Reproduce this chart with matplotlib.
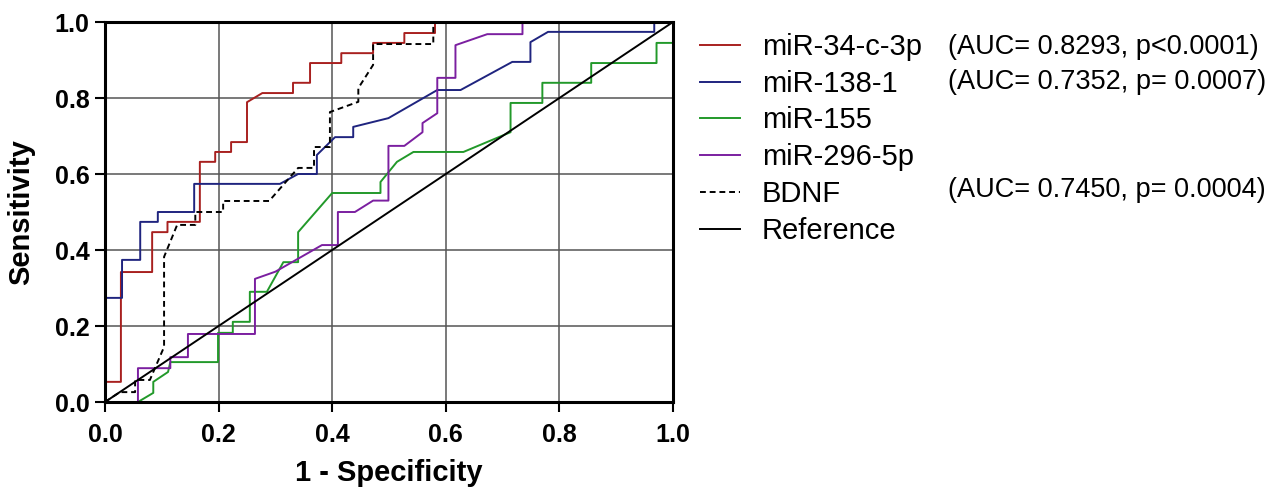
import matplotlib
matplotlib.use("Agg")
import matplotlib.pyplot as plt

plt.rcParams['font.family'] = ['Liberation Sans', 'DejaVu Sans']

# ROC curves (1 - specificity, sensitivity)
mir34_x = [0, 0, 0.028, 0.028, 0.083, 0.083, 0.11, 0.11, 0.167, 0.167, 0.194, 0.194,
           0.222, 0.222, 0.25, 0.25, 0.277, 0.331, 0.331, 0.361, 0.361, 0.416, 0.416,
           0.472, 0.472, 0.527, 0.527, 0.581, 0.581, 1.0]
mir34_y = [0, 0.053, 0.053, 0.342, 0.342, 0.447, 0.447, 0.474, 0.474, 0.632, 0.632, 0.658,
           0.658, 0.684, 0.684, 0.789, 0.813, 0.813, 0.84, 0.84, 0.892, 0.892, 0.918,
           0.918, 0.945, 0.945, 0.971, 0.971, 1.0, 1.0]

mir138_x = [0, 0, 0.03, 0.03, 0.062, 0.062, 0.093, 0.093, 0.157, 0.157, 0.308, 0.34,
            0.373, 0.373, 0.405, 0.437, 0.437, 0.499, 0.585, 0.626, 0.717, 0.749,
            0.749, 0.78, 0.967, 0.967, 1.0]
mir138_y = [0, 0.274, 0.274, 0.374, 0.374, 0.474, 0.474, 0.5, 0.5, 0.574, 0.574, 0.6,
            0.6, 0.65, 0.697, 0.697, 0.724, 0.747, 0.821, 0.821, 0.895, 0.895,
            0.947, 0.974, 0.974, 1.0, 1.0]

mir155_x = [0, 0.058, 0.085, 0.085, 0.111, 0.115, 0.199, 0.199, 0.225, 0.225, 0.255,
            0.255, 0.285, 0.314, 0.34, 0.34, 0.40, 0.485, 0.485, 0.514, 0.543, 0.631,
            0.714, 0.714, 0.77, 0.77, 0.856, 0.856, 0.971, 0.971, 1.0, 1.0]
mir155_y = [0, 0, 0.024, 0.053, 0.079, 0.105, 0.105, 0.182, 0.182, 0.211, 0.211,
            0.29, 0.29, 0.368, 0.368, 0.447, 0.55, 0.55, 0.579, 0.632, 0.658, 0.658,
            0.71, 0.787, 0.787, 0.84, 0.84, 0.892, 0.892, 0.945, 0.945, 1.0]

mir296_x = [0, 0.058, 0.058, 0.115, 0.115, 0.146, 0.146, 0.264, 0.264, 0.30, 0.382,
            0.41, 0.41, 0.44, 0.472, 0.499, 0.499, 0.527, 0.559, 0.559, 0.585, 0.585,
            0.617, 0.617, 0.673, 0.735, 0.735, 1.0]
mir296_y = [0, 0, 0.089, 0.089, 0.118, 0.118, 0.179, 0.179, 0.324, 0.343, 0.413,
            0.413, 0.5, 0.5, 0.53, 0.53, 0.674, 0.674, 0.71, 0.734, 0.76, 0.853,
            0.853, 0.939, 0.968, 0.968, 1.0, 1.0]

bdnf_x = [0, 0.026, 0.053, 0.053, 0.079, 0.104, 0.104, 0.127, 0.159, 0.159, 0.208,
          0.208, 0.289, 0.34, 0.368, 0.368, 0.396, 0.396, 0.446, 0.446, 0.472, 0.472,
          0.578, 0.578, 1.0]
bdnf_y = [0, 0.026, 0.026, 0.058, 0.058, 0.145, 0.382, 0.466, 0.466, 0.5, 0.5,
          0.529, 0.529, 0.616, 0.616, 0.671, 0.671, 0.763, 0.79, 0.826, 0.887, 0.942,
          0.942, 1.0, 1.0]

ref_x = [0, 1]
ref_y = [0, 1]

labels = ['miR-34-c-3p', 'miR-138-1', 'miR-155', 'miR-296-5p', 'BDNF', 'Reference']
auc_text = {0: '(AUC= 0.8293, p<0.0001)', 1: '(AUC= 0.7352, p= 0.0007)',
            4: '(AUC= 0.7450, p= 0.0004)'}

fig = plt.figure(figsize=(12.77, 4.9), dpi=100)
ax = fig.add_axes([105 / 1277, 88 / 490, 568 / 1277, 380 / 490])

lw = 1.4
ax.plot(mir34_x, mir34_y, color='#a8201f', lw=lw, label=labels[0])
ax.plot(mir138_x, mir138_y, color='#1f247f', lw=lw, label=labels[1])
ax.plot(mir155_x, mir155_y, color='#22992a', lw=lw, label=labels[2])
ax.plot(mir296_x, mir296_y, color='#7b1fa0', lw=lw, label=labels[3])
ax.plot(bdnf_x, bdnf_y, color='black', lw=lw, ls=(0, (3, 2)), label=labels[4])
ax.plot(ref_x, ref_y, color='black', lw=lw, label=labels[5])

ax.set_xlim(0, 1)
ax.set_ylim(0, 1)
ax.set_xticks([0, 0.2, 0.4, 0.6, 0.8, 1.0])
ax.set_yticks([0, 0.2, 0.4, 0.6, 0.8, 1.0])
ax.set_xticklabels(['0.0', '0.2', '0.4', '0.6', '0.8', '1.0'], fontweight='bold')
ax.set_yticklabels(['0.0', '0.2', '0.4', '0.6', '0.8', '1.0'], fontweight='bold')
ax.tick_params(labelsize=18, length=7, width=1.5, direction='out')
ax.tick_params(axis='x', pad=8)
ax.tick_params(axis='y', pad=4)
ax.grid(True, color='#555555', lw=1.1)
ax.set_axisbelow(True)
for s in ax.spines.values():
    s.set_linewidth(2.2)

ax.set_xlabel('1 - Specificity', fontsize=21, fontweight='bold', labelpad=9)
ax.set_ylabel('Sensitivity', fontsize=21, fontweight='bold', labelpad=14)

leg = ax.legend(loc='upper left', bbox_to_anchor=(700 / 1277, 1 - 33 / 490),
                bbox_transform=fig.transFigure, frameon=False, fontsize=21,
                handlelength=1.37, handletextpad=0.75, labelspacing=0.3,
                borderpad=0, borderaxespad=0)

# AUC annotations next to the legend entries
row_y = [47, 82, 118, 155, 190, 227]
for i, txt in auc_text.items():
    fig.text(948 / 1277, 1 - row_y[i] / 490, txt, fontsize=19.5, va='center', ha='left')

fig.savefig('out.png', dpi=100)
